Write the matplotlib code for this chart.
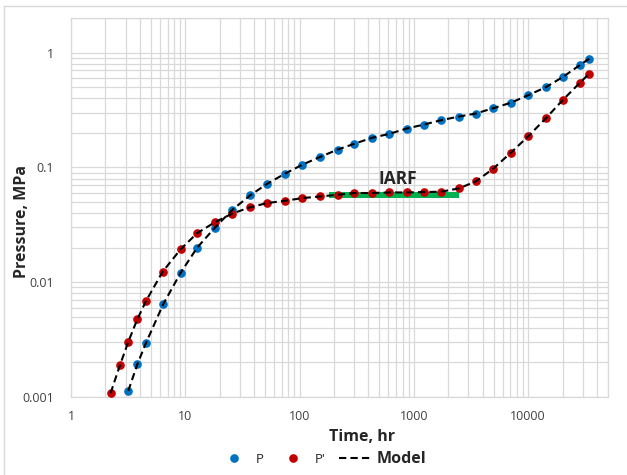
import numpy as np
import matplotlib
matplotlib.use('Agg')
import matplotlib.pyplot as plt
from matplotlib.lines import Line2D
from matplotlib.ticker import LogLocator, NullFormatter, FuncFormatter

plt.rcParams['font.family'] = ['Open Sans', 'DejaVu Sans']

# pressure P (blue)
time_p = [3.17, 3.80, 4.53, 6.42, 9.12, 12.7, 18.2, 25.8, 36.8, 52.2, 74.5, 106, 151, 215,
          301, 427, 609, 865, 1226, 1726, 2481, 3474, 4951, 7029, 10020, 14310, 20040, 28400, 34240]
p = [0.00113, 0.00192, 0.00296, 0.00645, 0.0121, 0.0200, 0.0299, 0.0427, 0.0569, 0.0721,
     0.0881, 0.1056, 0.1233, 0.1428, 0.1604, 0.1806, 0.1957, 0.2178, 0.236, 0.2573, 0.2772,
     0.2944, 0.3276, 0.365, 0.4254, 0.4996, 0.611, 0.778, 0.884]

# derivative P' (red)
time_dp = [2.22, 2.68, 3.17, 3.80, 4.53, 6.34, 9.12, 12.7, 18.2, 25.8, 36.8, 52.2, 74.5, 106,
           151, 215, 301, 427, 609, 865, 1226, 1726, 2481, 3474, 4951, 7029, 10020, 14310,
           20040, 28400, 34240]
dp = [0.00108, 0.00189, 0.00302, 0.00474, 0.00685, 0.01235, 0.01938, 0.02674, 0.0333, 0.0396,
      0.0449, 0.0489, 0.0512, 0.0540, 0.0558, 0.0577, 0.0598, 0.0598, 0.0605, 0.0605, 0.0610,
      0.0614, 0.0656, 0.0754, 0.0974, 0.1336, 0.1865, 0.268, 0.385, 0.546, 0.654]

# IARF flat line
iarf_time = [181, 2480]
iarf_value = [0.0569, 0.0569]

blue = '#0070C0'
red = '#C00000'
grid_c = '#d9d9d9'
txt_c = '#595959'

fig = plt.figure(figsize=(6.27, 4.75), dpi=100)
ax = fig.add_axes([71 / 627, 1 - 397 / 475, 537 / 627, 379 / 475])

ax.plot(iarf_time, iarf_value, color='#00B050', linewidth=4.3, solid_capstyle='butt', zorder=2)
ax.plot(time_p, p, 'o', color=blue, markersize=5.2, zorder=3, label='P')
ax.plot(time_dp, dp, 'o', color=red, markersize=5.2, zorder=3, label="P'")
ax.plot(time_p, p, color='black', linewidth=1.5, dashes=(3.5, 2), zorder=4, label='Model')
ax.plot(time_dp, dp, color='black', linewidth=1.5, dashes=(3.5, 2), zorder=4)

ax.text(726, 0.0797, 'IARF', fontsize=12.5, fontweight='bold', color='#262626',
        ha='center', va='center')

ax.set_xscale('log')
ax.set_yscale('log')
ax.set_xlim(1, 50000)
ax.set_ylim(0.001, 2)

ax.set_xticks([1, 10, 100, 1000, 10000])
ax.set_yticks([0.001, 0.01, 0.1, 1])
fmt = FuncFormatter(lambda v, pos: '{:g}'.format(v))
ax.xaxis.set_major_formatter(fmt)
ax.yaxis.set_major_formatter(fmt)
ax.xaxis.set_minor_locator(LogLocator(base=10, subs=np.arange(2, 10), numticks=100))
ax.yaxis.set_minor_locator(LogLocator(base=10, subs=np.arange(2, 10), numticks=100))
ax.xaxis.set_minor_formatter(NullFormatter())
ax.yaxis.set_minor_formatter(NullFormatter())
ax.tick_params(which='both', length=0, labelsize=9, labelcolor='#404040')
ax.tick_params(axis='x', pad=9)
ax.tick_params(axis='y', pad=12)

ax.grid(True, which='both', color=grid_c, linewidth=0.9)
ax.set_axisbelow(True)
for s in ax.spines.values():
    s.set_color(grid_c)
    s.set_linewidth(0.9)

fig.text(362 / 627, 1 - 437 / 475, 'Time, hr', fontsize=11.5, fontweight='bold',
         color='#262626', ha='center', va='center')
fig.text(22 / 627, 1 - 222 / 475, 'Pressure, MPa', fontsize=11.5, fontweight='bold',
         color='#262626', ha='center', va='center', rotation=90)

leg = fig.legend(loc='center', bbox_to_anchor=(322 / 627, 1 - 459 / 475), ncol=3,
                 frameon=False, fontsize=9.5, handlelength=2.5, handletextpad=0.4,
                 columnspacing=1.0, borderpad=0)
for t in leg.get_texts():
    t.set_color('#262626')
leg.get_texts()[2].set_fontweight('bold')
leg.get_texts()[2].set_fontsize(11.5)

# chart border like the original
fig.add_artist(Line2D([4 / 627, 4 / 627], [0, 1 - 6 / 475], transform=fig.transFigure,
                      color=grid_c, linewidth=1))
fig.add_artist(Line2D([4 / 627, 1], [1 - 6 / 475, 1 - 6 / 475], transform=fig.transFigure,
                      color=grid_c, linewidth=1))

plt.savefig('out.png', dpi=100)
plt.close()
